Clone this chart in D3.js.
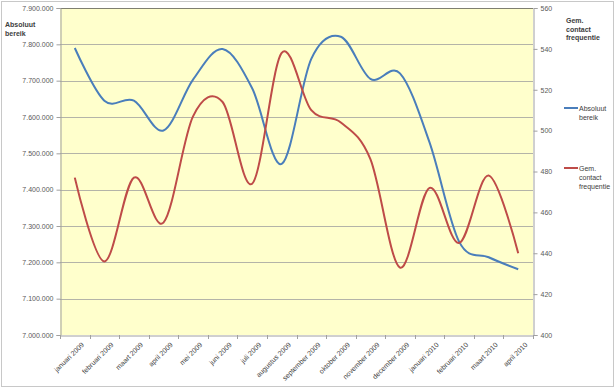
<!DOCTYPE html>
<html><head><meta charset="utf-8">
<script src="https://cdn.jsdelivr.net/npm/d3@7"></script>
<style>body{margin:0;background:#fff}svg{display:block}text{font-family:"Liberation Sans",Arial,sans-serif}</style>
</head><body>
<svg id="c" width="615" height="388"></svg>
<script>
const categories = ["januari 2009","februari 2009","maart 2009","april 2009","mei 2009","juni 2009","juli 2009","augustus 2009","september 2009","oktober 2009","november 2009","december 2009","januari 2010","februari 2010","maart 2010","april 2010"];
const absoluutBereik = [7790000,7645000,7645000,7563000,7703000,7787000,7679000,7471000,7760000,7821000,7705000,7720000,7530000,7257000,7214000,7181000];
const contactFrequentie = [477,436,477,455,507,514,474,538,510,504,486,433,472,445,478,440];
const leftTicks = [7000000,7100000,7200000,7300000,7400000,7500000,7600000,7700000,7800000,7900000];
const rightTicks = [400,420,440,460,480,500,520,540,560];
const seriesNames = ["Absoluut bereik","Gem. contact frequentie"];

const svg = d3.select("#c");
const L=60, R=533, T=8, B=335;
const fmt = d => d3.format(",")(d).replace(/,/g,".");

svg.append("rect").attr("x",1.5).attr("y",1.5).attr("width",612).attr("height",385).attr("fill","#fff").attr("stroke","#c8c8c8");
svg.append("rect").attr("x",L).attr("y",T).attr("width",R-L).attr("height",B-T).attr("fill","#ffffcc");

const x = d3.scaleBand().domain(categories).range([L,R]);
const yL = d3.scaleLinear().domain([7000000,7900000]).range([B,T]);
const yR = d3.scaleLinear().domain([400,560]).range([B,T]);

// gridlines
svg.append("g").selectAll("line").data(leftTicks.slice(1)).join("line")
  .attr("x1",L).attr("x2",R).attr("y1",d=>Math.round(yL(d))+0.5).attr("y2",d=>Math.round(yL(d))+0.5)
  .attr("stroke",(d,i,a)=> i===a.length-1 ? "#7f7f70" : "#b4b4a8").attr("stroke-width",1);

// left axis
const gl = svg.append("g").attr("transform",`translate(${L+0.5},0)`)
  .call(d3.axisLeft(yL).tickValues(leftTicks).tickFormat(fmt).tickSize(4).tickPadding(3));
gl.select(".domain").attr("stroke","#a0a0a0");
gl.selectAll(".tick line").attr("stroke","#a0a0a0");
gl.selectAll("text").attr("font-size",7).attr("fill","#595959");

// right axis
const gr = svg.append("g").attr("transform",`translate(${R+0.5},0)`)
  .call(d3.axisRight(yR).tickValues(rightTicks).tickSize(4).tickPadding(3));
gr.select(".domain").attr("stroke","#a0a0a0");
gr.selectAll(".tick line").attr("stroke","#a0a0a0");
gr.selectAll("text").attr("font-size",7).attr("fill","#595959");

// bottom axis
const gb = svg.append("g").attr("transform",`translate(0,${B+0.5})`)
  .call(d3.axisBottom(x).tickSize(0).tickPadding(6));
gb.select(".domain").attr("stroke","#a0a0a0");
gb.selectAll("text").attr("font-size",7).attr("fill","#404040")
  .attr("text-anchor","end").attr("dy","0.3em")
  .attr("transform","translate(4,4) rotate(-45)");
svg.append("g").selectAll("line").data(d3.range(categories.length+1)).join("line")
  .attr("x1",i=>Math.round(L+i*x.step())+0.5).attr("x2",i=>Math.round(L+i*x.step())+0.5)
  .attr("y1",B).attr("y2",B+4).attr("stroke","#a0a0a0");

// lines
const cx = d => x(d)+x.bandwidth()/2;
const lineL = d3.line().x((d,i)=>cx(categories[i])).y(d=>yL(d)).curve(d3.curveCardinal.tension(0));
const lineR = d3.line().x((d,i)=>cx(categories[i])).y(d=>yR(d)).curve(d3.curveCardinal.tension(0));
svg.append("path").attr("d",lineL(absoluutBereik)).attr("fill","none").attr("stroke","#4a7ebb").attr("stroke-width",2);
svg.append("path").attr("d",lineR(contactFrequentie)).attr("fill","none").attr("stroke","#be4b48").attr("stroke-width",2);

// axis titles
const t1 = svg.append("text").attr("x",5).attr("y",27).attr("font-size",7).attr("font-weight","bold").attr("fill","#404040");
t1.append("tspan").attr("x",5).text("Absoluut");
t1.append("tspan").attr("x",5).attr("dy",8.5).text("bereik");
const t2 = svg.append("text").attr("x",566).attr("y",23).attr("font-size",7).attr("font-weight","bold").attr("fill","#404040");
["Gem.","contact","frequentie"].forEach((s,i)=>t2.append("tspan").attr("x",566).attr("dy",i?8.5:0).text(s));

// legend
const legend = [{name:seriesNames[0], lines:["Absoluut","bereik"], color:"#4a7ebb", y:108},
                {name:seriesNames[1], lines:["Gem.","contact","frequentie"], color:"#be4b48", y:168}];
legend.forEach(l=>{
  svg.append("line").attr("x1",564).attr("x2",578).attr("y1",l.y).attr("y2",l.y).attr("stroke",l.color).attr("stroke-width",2);
  const t = svg.append("text").attr("x",579).attr("y",l.y+2.5).attr("font-size",7).attr("fill","#404040");
  l.lines.forEach((s,i)=>t.append("tspan").attr("x",579).attr("dy",i?9:0).text(s));
});
</script>
</body></html>
